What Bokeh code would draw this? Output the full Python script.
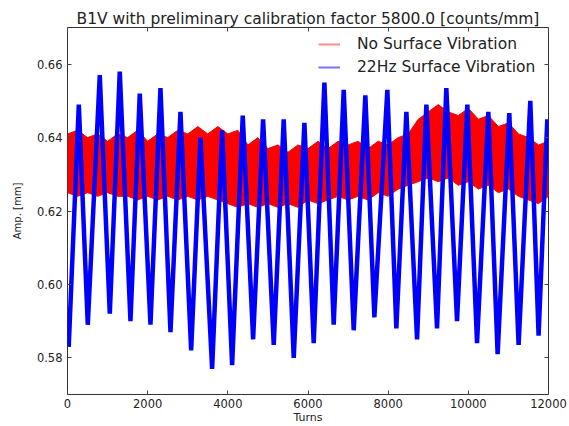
from bokeh.plotting import figure
from bokeh.models import LinearAxis, PrintfTickFormatter, Legend, LegendItem, FixedTicker
from bokeh.embed import file_html
from bokeh.resources import INLINE

# --- data ---
# No Surface Vibration: envelope of the noisy red trace (every 250 turns)
red_turns = list(range(0, 12001, 250))
red_upper = [0.641, 0.642, 0.640, 0.641, 0.639, 0.641, 0.640, 0.642, 0.639, 0.641,
             0.640, 0.642, 0.641, 0.643, 0.641, 0.643, 0.641, 0.642, 0.638, 0.640,
             0.637, 0.638, 0.636, 0.638, 0.637, 0.639, 0.637, 0.639, 0.638, 0.639,
             0.637, 0.639, 0.638, 0.640, 0.641, 0.645, 0.647, 0.649, 0.647, 0.646,
             0.648, 0.645, 0.646, 0.643, 0.644, 0.641, 0.640, 0.638, 0.639]
red_lower = [0.625, 0.624, 0.625, 0.624, 0.625, 0.624, 0.624, 0.623, 0.624, 0.623,
             0.624, 0.623, 0.624, 0.623, 0.624, 0.623, 0.622, 0.621, 0.622, 0.621,
             0.622, 0.621, 0.622, 0.621, 0.623, 0.622, 0.623, 0.624, 0.623, 0.624,
             0.623, 0.625, 0.624, 0.626, 0.627, 0.628, 0.629, 0.628, 0.629, 0.627,
             0.628, 0.626, 0.627, 0.625, 0.626, 0.624, 0.623, 0.622, 0.624]

# 22Hz Surface Vibration: turning points (peaks / troughs) of the blue trace
blue_turns = [30, 282, 506, 805, 1055, 1304, 1571, 1803, 2070, 2319, 2569, 2818,
              3085, 3317, 3608, 3858, 4107, 4372, 4631, 4880, 5145, 5394, 5644,
              5910, 6142, 6409, 6641, 6891, 7140, 7431, 7656, 7980, 8204, 8454,
              8721, 8953, 9219, 9451, 9718, 9975, 10217, 10499, 10731, 11022,
              11254, 11546, 11753, 11970]
blue_amp = [0.583, 0.649, 0.589, 0.657, 0.592, 0.658, 0.590, 0.652, 0.589, 0.6535,
            0.587, 0.647, 0.582, 0.640, 0.577, 0.642, 0.578, 0.646, 0.585, 0.645,
            0.5835, 0.645, 0.580, 0.644, 0.584, 0.655, 0.589, 0.653, 0.5875, 0.6515,
            0.591, 0.653, 0.588, 0.647, 0.585, 0.649, 0.588, 0.6535, 0.590, 0.649,
            0.584, 0.647, 0.581, 0.6467, 0.5835, 0.650, 0.586, 0.645]

x_ticks = [0, 2000, 4000, 6000, 8000, 10000, 12000]
y_ticks = [0.58, 0.60, 0.62, 0.64, 0.66]

FONT = "DejaVu Sans"
TXT = "#222222"
TICK = "#444444"

p = figure(width=569, height=426, x_range=(0, 12000), y_range=(0.57, 0.67),
           output_backend="svg", toolbar_location=None,
           min_border_left=67, min_border_right=21, min_border_top=27,
           min_border_bottom=31, title="B1V with preliminary calibration factor 5800.0 [counts/mm]")

p.title.align = "center"
p.title.text_font = FONT
p.title.text_font_size = "15.5px"
p.title.text_font_style = "normal"
p.title.text_color = TXT
p.title.standoff = 0

p.xgrid.visible = False
p.ygrid.visible = False
p.outline_line_color = "#333333"
p.outline_line_width = 1

red = p.varea(x=red_turns, y1=red_lower, y2=red_upper, fill_color="red")
p.line(red_turns, red_upper, line_color="red", line_width=1)
p.line(red_turns, red_lower, line_color="red", line_width=1)
blue = p.line(blue_turns, blue_amp, line_color="blue", line_width=4.5)

# legend-only renderers (a single point draws no visible line)
leg_red = p.line(red_turns[:1], red_upper[:1], line_color="red", line_alpha=0.45, line_width=2)
leg_blue = p.line(blue_turns[:1], blue_amp[:1], line_color="blue", line_alpha=0.55, line_width=2)

legend = Legend(items=[LegendItem(label="No Surface Vibration", renderers=[leg_red]),
                       LegendItem(label="22Hz Surface Vibration", renderers=[leg_blue])],
                location=(251, 317), border_line_color=None, background_fill_alpha=0,
                padding=0, margin=0, spacing=3, glyph_width=22, glyph_height=20,
                label_height=20, label_standoff=17,
                label_text_font=FONT, label_text_font_size="15.5px", label_text_color=TXT)
p.add_layout(legend)

for ax in (p.xaxis[0], p.yaxis[0]):
    ax.major_label_text_font = FONT
    ax.major_label_text_font_size = "11.5px"
    ax.major_label_text_color = TXT
    ax.axis_label_text_font = FONT
    ax.axis_label_text_font_style = "normal"
    ax.axis_label_text_color = TXT
    ax.axis_line_color = None
    ax.major_tick_in = 4
    ax.major_tick_out = 0
    ax.minor_tick_line_color = None
    ax.major_tick_line_color = TICK

p.xaxis.ticker = x_ticks
p.yaxis.ticker = y_ticks
p.yaxis.formatter = PrintfTickFormatter(format="%.2f")
p.yaxis.axis_label = "Amp. [mm]"
p.yaxis.axis_label_text_font_size = "10px"
p.xaxis.axis_label = "Turns"
p.xaxis.axis_label_text_font_size = "11px"
p.xaxis.major_label_standoff = 4
p.xaxis.axis_label_standoff = 0
p.yaxis.major_label_standoff = 5
p.yaxis.axis_label_standoff = 11

# ticks on top and right, no labels
top = LinearAxis(ticker=FixedTicker(ticks=x_ticks), major_label_text_color=None,
                 major_label_text_font_size="1px",
                 axis_line_color=None, major_tick_in=4, major_tick_out=0,
                 major_tick_line_color=TICK, minor_tick_line_color=None,
                 major_label_standoff=0)
right = LinearAxis(ticker=FixedTicker(ticks=y_ticks), major_label_text_color=None,
                   major_label_text_font_size="1px",
                   axis_line_color=None, major_tick_in=4, major_tick_out=0,
                   major_tick_line_color=TICK, minor_tick_line_color=None,
                   major_label_standoff=0)
p.add_layout(top, "above")
p.add_layout(right, "right")

out = open("out.html", "w")
out.write(file_html(p, INLINE))
out.close()
